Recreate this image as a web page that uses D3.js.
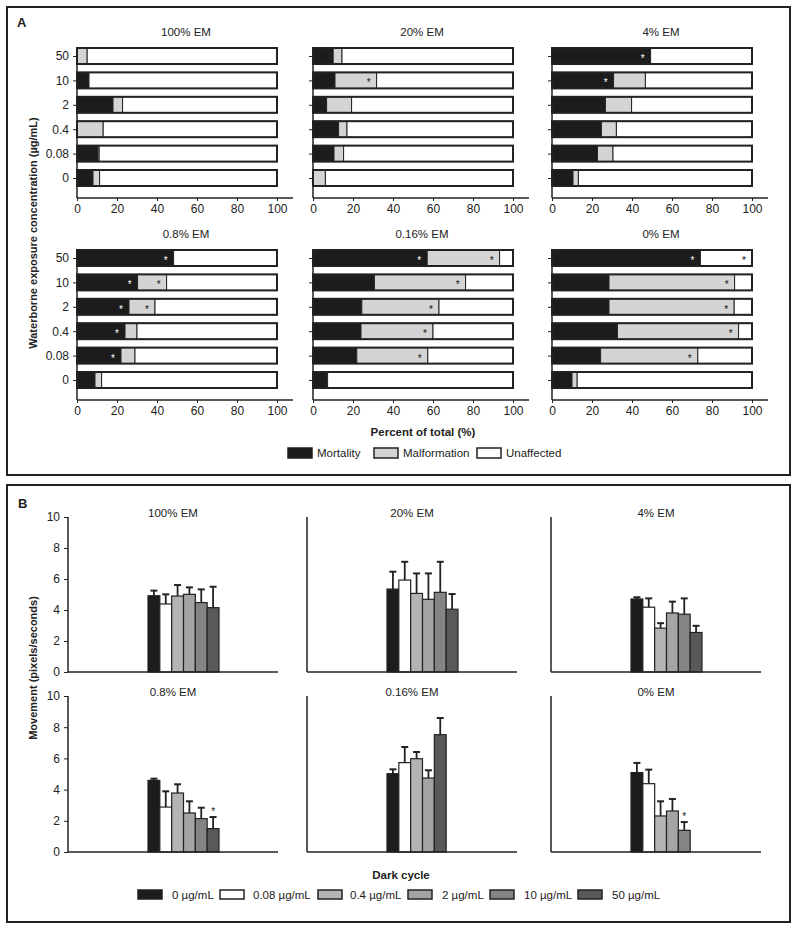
<!DOCTYPE html>
<html>
<head>
<meta charset="utf-8">
<script src="https://cdn.jsdelivr.net/npm/d3@7"></script>
<style>
  html, body { margin: 0; padding: 0; background: #fff; }
  svg text { font-family: "Liberation Sans", Arial, Helvetica, sans-serif; fill: #222; }
</style>
</head>
<body>
<svg id="chart" width="800" height="931"></svg>
<script>
// ---------------- DATA ----------------
const concentrations = ["0", "0.08", "0.4", "2", "10", "50"];
const emLevels = ["100% EM", "20% EM", "4% EM", "0.8% EM", "0.16% EM", "0% EM"];
const pctTicks = [0, 20, 40, 60, 80, 100];
const moveTicks = [0, 2, 4, 6, 8, 10];
const outcomeNames = ["Mortality", "Malformation", "Unaffected"];
const concLegend = ["0 \u00b5g/mL", "0.08 \u00b5g/mL", "0.4 \u00b5g/mL", "2 \u00b5g/mL", "10 \u00b5g/mL", "50 \u00b5g/mL"];

// Panel A: percent of total, per EM level, in concentration order 0 .. 50
const mortalityPct = [
  [8.0, 10.5, 0.0, 18.0, 6.0, 0.0],
  [0.0, 10.5, 12.8, 6.8, 11.0, 10.1],
  [10.5, 22.7, 24.7, 26.7, 30.8, 49.3],
  [9.0, 22.0, 24.0, 26.0, 30.3, 48.3],
  [7.3, 21.9, 24.0, 24.4, 30.7, 57.1],
  [10.0, 24.3, 32.7, 28.5, 28.5, 74.2]
];
const malformationPct = [
  [3.3, 0.6, 13.1, 4.8, 0.0, 5.1],
  [6.2, 4.8, 4.2, 12.5, 20.8, 4.4],
  [2.7, 7.8, 7.5, 13.1, 15.9, 0.0],
  [3.3, 7.0, 6.0, 13.0, 14.5, 0.0],
  [0.0, 35.5, 36.0, 38.6, 45.6, 36.2],
  [2.6, 48.6, 60.6, 62.6, 62.8, 0.0]
];
const unaffectedPct = [
  [88.7, 88.9, 86.9, 77.2, 94.0, 94.9],
  [93.8, 84.7, 83.0, 80.7, 68.2, 85.5],
  [86.8, 69.5, 67.8, 60.2, 53.3, 50.7],
  [87.7, 71.0, 70.0, 61.0, 55.2, 51.7],
  [92.7, 42.6, 40.0, 37.0, 23.7, 6.7],
  [87.4, 27.1, 6.7, 8.9, 8.7, 25.8]
];
// significance markers (concentration labels) per EM level
const starsMortality = [[], [], ["10", "50"], ["0.08", "0.4", "2", "10", "50"], ["50"], ["50"]];
const starsMalformation = [[], ["10"], [], ["2", "10"], ["0.08", "0.4", "2", "10", "50"], ["0.08", "0.4", "2", "10"]];
const starsUnaffected = [[], [], [], [], [], ["50"]];

// Panel B: movement (pixels/seconds), mean and SE; null = not tested
const movementMean = [
  [4.92, 4.39, 4.90, 5.01, 4.48, 4.15],
  [5.35, 5.93, 5.07, 4.69, 5.14, 4.05],
  [4.71, 4.18, 2.83, 3.81, 3.73, 2.55],
  [4.59, 2.88, 3.78, 2.50, 2.14, 1.50],
  [5.02, 5.73, 5.98, 4.74, null, 7.52],
  [5.09, 4.38, 2.31, 2.63, 1.39, null]
];
const movementSE = [
  [0.33, 0.62, 0.71, 0.45, 0.85, 1.35],
  [1.12, 1.18, 1.29, 1.67, 1.97, 0.98],
  [0.11, 0.57, 0.32, 0.73, 1.02, 0.43],
  [0.11, 1.01, 0.56, 0.75, 0.70, 0.74],
  [0.28, 1.00, 0.43, 0.50, null, 1.07],
  [0.62, 0.90, 0.94, 0.77, 0.53, null]
];
const starsMovement = [[], [], [], ["50"], [], ["10"]];

// ---------------- STYLE ----------------
const outcomeColors = ["#1c1c1c", "#d4d4d4", "#ffffff"];
const concColors = ["#1c1c1c", "#ffffff", "#b4b4b4", "#a4a4a4", "#848484", "#595959"];
const ink = "#222";
const tickFont = 12, titleFont = 11.5, labelFont = 11.5;

const svg = d3.select("#chart");

// panel frames
svg.append("rect").attr("x", 7).attr("y", 7).attr("width", 783).attr("height", 468)
  .attr("fill", "none").attr("stroke", ink).attr("stroke-width", 2);
svg.append("rect").attr("x", 7).attr("y", 485).attr("width", 783).attr("height", 437)
  .attr("fill", "none").attr("stroke", ink).attr("stroke-width", 2);
svg.append("text").attr("x", 17).attr("y", 27).attr("font-size", 13).attr("font-weight", "bold").text("A");
svg.append("text").attr("x", 18).attr("y", 508).attr("font-size", 13).attr("font-weight", "bold").text("B");

// ---------------- PANEL A ----------------
const aX0 = [77, 313, 552];
const aRowTop = [56, 258];   // centre of "50" row
const aRowBot = [178, 380];  // centre of "0" row
const aBarH = 16;
const concDesc = concentrations.slice().reverse();

emLevels.forEach((em, p) => {
  const col = p % 3, row = Math.floor(p / 3);
  const x0 = aX0[col];
  const g = svg.append("g");
  const x = d3.scaleLinear().domain([0, 100]).range([x0, x0 + 200]);
  const y = d3.scalePoint().domain(concDesc).range([aRowTop[row], aRowBot[row]]);
  const axTop = aRowTop[row] - 9, axBot = aRowBot[row] + 20;

  // title
  g.append("text").attr("x", x0 + 109).attr("y", aRowTop[row] - 20).attr("text-anchor", "middle")
    .attr("font-size", titleFont).text(em);

  // bars
  concentrations.forEach((c, i) => {
    const segs = [mortalityPct[p][i], malformationPct[p][i], unaffectedPct[p][i]];
    const starLists = [starsMortality[p], starsMalformation[p], starsUnaffected[p]];
    let acc = 0;
    const cy = y(c);
    segs.forEach((v, k) => {
      if (v > 0) {
        g.append("rect").attr("x", x(acc)).attr("y", cy - aBarH / 2)
          .attr("width", x(acc + v) - x(acc)).attr("height", aBarH)
          .attr("fill", outcomeColors[k]).attr("stroke", ink).attr("stroke-width", 1);
      }
      if (starLists[k].includes(c)) {
        g.append("text").attr("x", x(acc + v) - 8).attr("y", cy + 6).attr("text-anchor", "middle")
          .attr("font-size", 10).style("fill", k === 0 ? "#fff" : "#111").text("*");
      }
      acc += v;
    });
    // outer outline
    g.append("rect").attr("x", x(0)).attr("y", cy - aBarH / 2).attr("width", x(100) - x(0)).attr("height", aBarH)
      .attr("fill", "none").attr("stroke", ink).attr("stroke-width", 2);
  });

  // y axis
  const yAxis = d3.axisLeft(y).tickSize(4).tickSizeOuter(0).tickFormat(col === 0 ? (d => d) : () => "");
  const ya = g.append("g").attr("transform", `translate(${x0},0)`).call(yAxis);
  ya.select(".domain").remove();
  ya.selectAll("text").attr("font-size", tickFont).style("fill", ink).attr("dx", "-1");
  ya.selectAll("line").attr("stroke", ink);
  g.append("line").attr("x1", x0).attr("x2", x0).attr("y1", axTop).attr("y2", axBot)
    .attr("stroke", ink).attr("stroke-width", 1.5);

  // x axis
  const xAxis = d3.axisBottom(x).tickValues(pctTicks).tickSize(3).tickSizeOuter(0);
  const xa = g.append("g").attr("transform", `translate(0,${axBot})`).call(xAxis);
  xa.select(".domain").remove();
  xa.selectAll("text").attr("font-size", tickFont).style("fill", ink);
  xa.selectAll("line").attr("stroke", ink);
  g.append("line").attr("x1", x0).attr("x2", x0 + 216).attr("y1", axBot).attr("y2", axBot)
    .attr("stroke", ink).attr("stroke-width", 1.5);
});

svg.append("text").attr("transform", "translate(37,233) rotate(-90)").attr("text-anchor", "middle")
  .attr("font-size", 11).attr("font-weight", "bold").text("Waterborne exposure concentration (\u00b5g/mL)");
svg.append("text").attr("x", 423).attr("y", 436).attr("text-anchor", "middle")
  .attr("font-size", labelFont).attr("font-weight", "bold").text("Percent of total (%)");

// legend A
const legA = [{x: 288, t: 317}, {x: 374, t: 403}, {x: 477, t: 506}];
outcomeNames.forEach((n, k) => {
  svg.append("rect").attr("x", legA[k].x).attr("y", 448).attr("width", 24).attr("height", 10)
    .attr("fill", outcomeColors[k]).attr("stroke", ink).attr("stroke-width", 1.5);
  svg.append("text").attr("x", legA[k].t).attr("y", 457).attr("font-size", labelFont).text(n);
});

// ---------------- PANEL B ----------------
const bX0 = [68, 307, 551];
const bW = 210;
const bY0 = [672, 852];   // pixel of value 0
const bY10 = [517, 696];  // pixel of value 10

emLevels.forEach((em, p) => {
  const col = p % 3, row = Math.floor(p / 3);
  const x0 = bX0[col];
  const g = svg.append("g");
  const y = d3.scaleLinear().domain([0, 10]).range([bY0[row], bY10[row]]);
  const slot = d3.scaleBand().domain(d3.range(concentrations.length)).range([x0 + 80, x0 + 151]).padding(0);

  g.append("text").attr("x", x0 + 105).attr("y", bY10[row]).attr("text-anchor", "middle")
    .attr("font-size", titleFont).text(em);

  const present = concentrations.map((c, i) => ({c, i, m: movementMean[p][i], se: movementSE[p][i]}))
    .filter(d => d.m !== null);
  present.forEach((d, j) => {
    const bx = slot(j), bw = slot.bandwidth();
    const top = y(d.m), cap = y(d.m + d.se);
    // error bar (upper only)
    g.append("line").attr("x1", bx + bw / 2).attr("x2", bx + bw / 2).attr("y1", top).attr("y2", cap)
      .attr("stroke", ink).attr("stroke-width", 1.8);
    g.append("line").attr("x1", bx + bw / 2 - 3.5).attr("x2", bx + bw / 2 + 3.5).attr("y1", cap).attr("y2", cap)
      .attr("stroke", ink).attr("stroke-width", 2);
    g.append("rect").attr("x", bx).attr("y", top).attr("width", bw).attr("height", y(0) - top)
      .attr("fill", concColors[d.i]).attr("stroke", ink).attr("stroke-width", 1.2);
    if (starsMovement[p].includes(d.c)) {
      g.append("text").attr("x", bx + bw / 2).attr("y", cap - 2).attr("text-anchor", "middle")
        .attr("font-size", 10).style("fill", "#111").text("*");
    }
  });

  if (col === 0) {
    const ya = g.append("g").attr("transform", `translate(${x0},0)`)
      .call(d3.axisLeft(y).tickValues(moveTicks).tickSize(4).tickSizeOuter(0));
    ya.select(".domain").remove();
    ya.selectAll("text").attr("font-size", tickFont).style("fill", ink).attr("dx", "-1");
    ya.selectAll("line").attr("stroke", ink);
  }
  g.append("line").attr("x1", x0).attr("x2", x0).attr("y1", y(10)).attr("y2", y(0))
    .attr("stroke", ink).attr("stroke-width", 1.5);
  g.append("line").attr("x1", x0).attr("x2", x0 + bW).attr("y1", y(0)).attr("y2", y(0))
    .attr("stroke", ink).attr("stroke-width", 1.5);
});

svg.append("text").attr("transform", "translate(37,668) rotate(-90)").attr("text-anchor", "middle")
  .attr("font-size", 11).attr("font-weight", "bold").text("Movement (pixels/seconds)");
svg.append("text").attr("x", 401).attr("y", 879).attr("text-anchor", "middle")
  .attr("font-size", labelFont).attr("font-weight", "bold").text("Dark cycle");

// legend B
const legBx = [138, 220, 318, 408, 490, 578];
const legBt = [172, 253, 350, 442, 524, 612];
concLegend.forEach((n, i) => {
  svg.append("rect").attr("x", legBx[i]).attr("y", 890).attr("width", 24).attr("height", 9)
    .attr("fill", concColors[i]).attr("stroke", ink).attr("stroke-width", 1.5);
  svg.append("text").attr("x", legBt[i]).attr("y", 899).attr("font-size", labelFont).text(n);
});
</script>
</body>
</html>
